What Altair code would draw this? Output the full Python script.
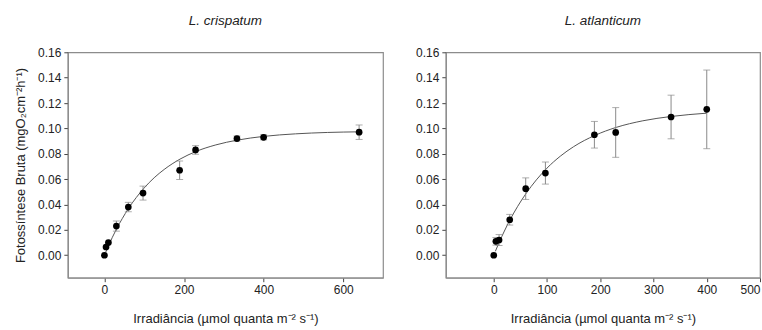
import altair as alt
import pandas as pd

FONT = "Liberation Sans"

# L. crispatum: irradiance, gross photosynthesis and its error
irr_c = [0, 4, 10, 30, 60, 97, 189, 229, 333, 400, 640]
gp_c = [0.000, 0.0065, 0.010, 0.023, 0.038, 0.049, 0.067, 0.083, 0.092, 0.093, 0.097]
se_c = [0.0, 0.0, 0.0, 0.004, 0.0037, 0.0055, 0.0073, 0.0034, 0.002, 0.002, 0.0057]

# L. atlanticum
irr_a = [0, 4, 10, 30, 60, 97, 189, 229, 333, 400]
gp_a = [0.000, 0.011, 0.012, 0.028, 0.0525, 0.0648, 0.095, 0.0968, 0.109, 0.115]
se_a = [0.0, 0.003, 0.0043, 0.0042, 0.0085, 0.0087, 0.0105, 0.0196, 0.0172, 0.031]

# fitted P-I curves
fit_x_c = [3, 10, 20, 30, 45, 60, 80, 100, 125, 150, 190, 230, 280, 333, 400, 480, 560, 640]
fit_y_c = [0.0023, 0.0074, 0.0142, 0.0205, 0.0290, 0.0367, 0.0455, 0.0531, 0.0611,
           0.0676, 0.0758, 0.0818, 0.0870, 0.0907, 0.0937, 0.0957, 0.0968, 0.0973]
fit_x_a = [3, 10, 20, 30, 45, 60, 80, 100, 125, 150, 190, 230, 280, 333, 400]
fit_y_a = [0.0031, 0.0100, 0.0191, 0.0275, 0.0386, 0.0483, 0.0594, 0.0687, 0.0781,
           0.0856, 0.0945, 0.1008, 0.1060, 0.1094, 0.1120]

y_ticks = [0.00, 0.02, 0.04, 0.06, 0.08, 0.10, 0.12, 0.14, 0.16]
x_ticks_c = [0, 200, 400, 600]
x_ticks_a = [0, 100, 200, 300, 400, 500]

X_TITLE = "Irradiância (µmol quanta m⁻² s⁻¹)"
Y_TITLE = "Fotossíntese Bruta (mgO₂cm⁻²h⁻¹)"
Y_DOMAIN = [-0.0177, 0.16]


def panel(name, irr, gp, se, fx, fy, xdom, xticks, width, ytitle):
    pts = pd.DataFrame({"x": irr, "y": gp, "lo": [g - e for g, e in zip(gp, se)],
                        "hi": [g + e for g, e in zip(gp, se)], "e": se})
    bars = pts[pts["e"] > 0]
    fit = pd.DataFrame({"x": fx, "y": fy})

    if ytitle:
        yaxis = alt.Axis(values=y_ticks, format=".2f", labelOverlap=False, tickCount=9,
                         title=ytitle, titlePadding=10)
    else:
        yaxis = alt.Axis(values=y_ticks, format=".2f", labelOverlap=False, tickCount=9, title=None)
    xaxis = alt.Axis(values=xticks, labelOverlap=False, title=X_TITLE, titlePadding=17)
    xs = alt.Scale(domain=xdom, nice=False, zero=False)
    ys = alt.Scale(domain=Y_DOMAIN, nice=False, zero=False)

    def xe():
        return alt.X("x:Q", scale=xs, axis=xaxis)

    def ye(field):
        return alt.Y(f"{field}:Q", scale=ys, axis=yaxis)

    curve = alt.Chart(fit).mark_line(color="#555555", strokeWidth=1, interpolate="monotone").encode(
        x=xe(), y=ye("y"))
    stems = alt.Chart(bars).mark_rule(color="#8a8a8a", strokeWidth=1).encode(
        x=xe(), y=ye("lo"), y2="hi:Q")
    caps_lo = alt.Chart(bars).mark_tick(orient="horizontal", size=7, thickness=1, color="#8a8a8a").encode(
        x=xe(), y=ye("lo"))
    caps_hi = alt.Chart(bars).mark_tick(orient="horizontal", size=7, thickness=1, color="#8a8a8a").encode(
        x=xe(), y=ye("hi"))
    dots = alt.Chart(pts).mark_circle(size=45, color="black", opacity=1).encode(x=xe(), y=ye("y"))

    return alt.layer(curve, stems, caps_lo, caps_hi, dots).properties(
        width=width, height=226,
        title=alt.TitleParams(name, fontStyle="italic", fontWeight="normal", fontSize=13.5,
                              font=FONT, color="#222222", offset=19),
    )


left = panel("L. crispatum", irr_c, gp_c, se_c, fit_x_c, fit_y_c, [-92, 700], x_ticks_c, 316, Y_TITLE)
right = panel("L. atlanticum", irr_a, gp_a, se_a, fit_x_a, fit_y_a, [-90, 500], x_ticks_a, 315, None)

chart = alt.hconcat(left, right, spacing=31).properties(
    padding={"left": 14, "top": 12, "right": 0, "bottom": 0},
    background="white",
).configure_view(
    stroke="#8c8c8c", strokeWidth=1.2
).configure_axis(
    grid=False, domainColor="#8c8c8c", domainWidth=1.2, tickColor="#444444", tickSize=4,
    labelFont=FONT, labelFontSize=12, labelColor="#222222", labelPadding=3, labelOverlap=False,
    titleFont=FONT, titleFontSize=13, titleFontWeight="normal", titleColor="#222222",
)

chart.save("out.html", embed_options={"renderer": "svg", "actions": False})
